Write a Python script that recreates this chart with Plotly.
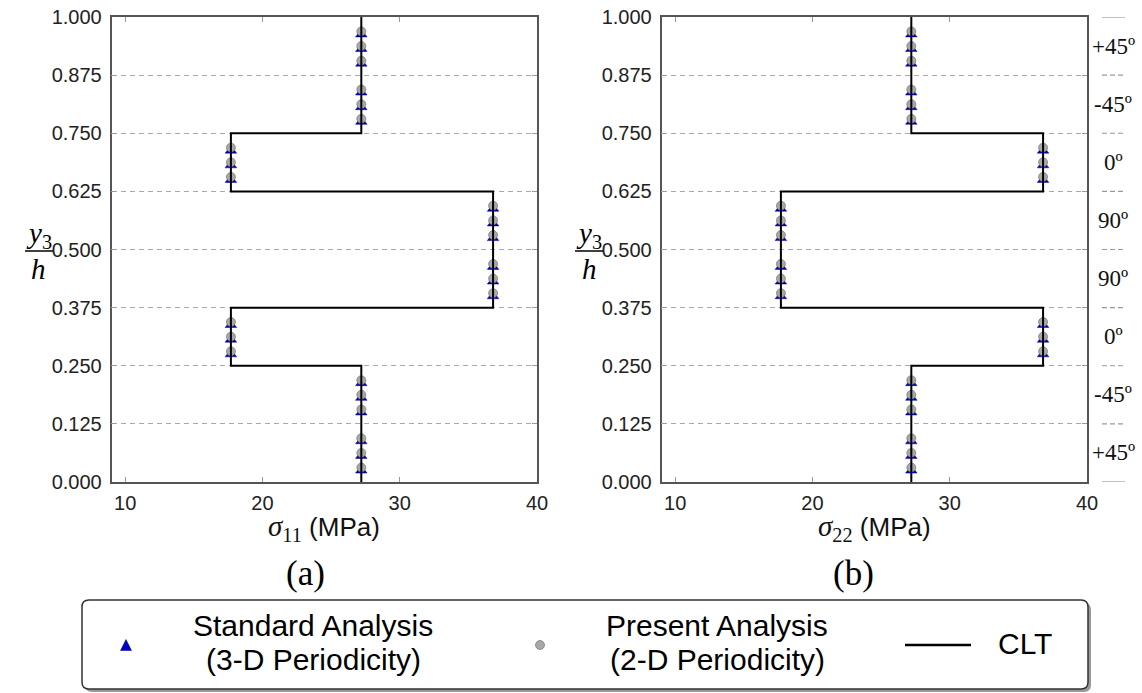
import plotly.graph_objects as go

W, H = 1142, 693

# ---------------- data ----------------
ply_bounds = [0.0, 0.125, 0.25, 0.375, 0.5, 0.625, 0.75, 0.875, 1.0]
ply_labels = ["+45º", "-45º", "0º", "90º", "90º", "0º", "-45º", "+45º"]  # bottom -> top
clt_s11 = [27.2, 27.2, 17.7, 36.8, 36.8, 17.7, 27.2, 27.2]
clt_s22 = [27.2, 27.2, 36.8, 17.7, 17.7, 36.8, 27.2, 27.2]

y_pts = [0.031, 0.0625, 0.094, 0.156, 0.1875, 0.219, 0.281, 0.3125, 0.344,
         0.406, 0.4375, 0.469, 0.531, 0.5625, 0.594, 0.656, 0.6875, 0.719,
         0.781, 0.8125, 0.844, 0.906, 0.9375, 0.969]
std_s11 = [27.2, 27.2, 27.2, 27.2, 27.2, 27.2, 17.7, 17.7, 17.7, 36.8, 36.8, 36.8,
           36.8, 36.8, 36.8, 17.7, 17.7, 17.7, 27.2, 27.2, 27.2, 27.2, 27.2, 27.2]
pres_s11 = [27.2, 27.2, 27.2, 27.2, 27.2, 27.2, 17.7, 17.7, 17.7, 36.8, 36.8, 36.8,
            36.8, 36.8, 36.8, 17.7, 17.7, 17.7, 27.2, 27.2, 27.2, 27.2, 27.2, 27.2]
std_s22 = [27.2, 27.2, 27.2, 27.2, 27.2, 27.2, 36.8, 36.8, 36.8, 17.7, 17.7, 17.7,
           17.7, 17.7, 17.7, 36.8, 36.8, 36.8, 27.2, 27.2, 27.2, 27.2, 27.2, 27.2]
pres_s22 = [27.2, 27.2, 27.2, 27.2, 27.2, 27.2, 36.8, 36.8, 36.8, 17.7, 17.7, 17.7,
            17.7, 17.7, 17.7, 36.8, 36.8, 36.8, 27.2, 27.2, 27.2, 27.2, 27.2, 27.2]

x_ticks = [10, 20, 30, 40]
y_ticks = [0.0, 0.125, 0.25, 0.375, 0.5, 0.625, 0.75, 0.875, 1.0]

legend_names = [["Standard Analysis", "(3-D Periodicity)"],
                ["Present Analysis", "(2-D Periodicity)"],
                ["CLT"]]

# ---------------- style ----------------
SANS = "Liberation Sans, Arial, sans-serif"
SERIF = "Liberation Serif, Times New Roman, serif"
BLUE = "#0000c8"
GRAY = "#a8a8a8"


def px(x):
    return x / W


def py(y):
    return 1 - y / H


def step(vals):
    xs, ys = [], []
    for i, v in enumerate(vals):
        xs += [v, v]
        ys += [ply_bounds[i], ply_bounds[i + 1]]
    return xs, ys


fig = go.Figure()

panels = [("x", "y", std_s11, pres_s11, clt_s11),
          ("x2", "y2", std_s22, pres_s22, clt_s22)]
for xa, ya, std, pres, clt in panels:
    fig.add_trace(go.Scatter(
        x=std, y=y_pts, xaxis=xa, yaxis=ya, mode="markers",
        marker=dict(symbol="triangle-up", size=10, color=BLUE, standoff=3,
                    line=dict(color="#00007a", width=0.5)),
        showlegend=False, cliponaxis=False))
    fig.add_trace(go.Scatter(
        x=pres, y=y_pts, xaxis=xa, yaxis=ya, mode="markers",
        marker=dict(symbol="circle", size=9, color=GRAY,
                    line=dict(color="#666666", width=0.6)),
        showlegend=False, cliponaxis=False))
    cx, cy = step(clt)
    fig.add_trace(go.Scatter(
        x=cx, y=cy, xaxis=xa, yaxis=ya, mode="lines",
        line=dict(color="black", width=2), showlegend=False, cliponaxis=False))

ydom = [py(482), py(17)]
xdoms = [[px(111.5), px(537)], [px(661.5), px(1087)]]

common_x = dict(range=[9, 40], tickvals=x_ticks, ticks="inside", ticklen=5,
                tickcolor="#999", showline=True, linecolor="#555", linewidth=1.5,
                mirror="ticks", showgrid=False, zeroline=False, automargin=False,
                tickfont=dict(family=SANS, size=20, color="#222"),
                ticklabelstandoff=2)
common_y = dict(range=[0, 1], tickvals=y_ticks, tickformat=".3f", ticks="inside",
                ticklen=5, tickcolor="#999", showline=True, linecolor="#555",
                linewidth=1.5, mirror="ticks", showgrid=True, gridcolor="#aaaaaa",
                gridwidth=1, griddash="5px,4px", zeroline=False, automargin=False,
                tickfont=dict(family=SANS, size=20, color="#222"),
                ticklabelstandoff=4)

fig.update_layout(
    width=W, height=H, margin=dict(l=0, r=0, t=0, b=0, pad=0, autoexpand=False),
    paper_bgcolor="white", plot_bgcolor="white", showlegend=False,
    xaxis=dict(domain=xdoms[0], anchor="y", **common_x),
    yaxis=dict(domain=ydom, anchor="x", **common_y),
    xaxis2=dict(domain=xdoms[1], anchor="y2", **common_x),
    yaxis2=dict(domain=ydom, anchor="x2", **common_y),
)

annotations = []
shapes = []


def ann(x, y, text, font, yref="paper"):
    return dict(x=x, y=y, xref="paper", yref=yref, text=text, showarrow=False,
                xanchor="center", yanchor="middle", font=font)


# y-axis fraction labels, x titles, panel letters
for i, (xcen, sub, letter) in enumerate([(39, "11", "(a)"), (589, "22", "(b)")]):
    annotations.append(ann(px(xcen), py(235), "<i>y</i><sub>3</sub>",
                           dict(family=SERIF, size=29, color="black")))
    annotations.append(ann(px(xcen), py(269), "<i>h</i>",
                           dict(family=SERIF, size=29, color="black")))
    shapes.append(dict(type="line", xref="paper", yref="paper",
                       x0=px(xcen - 14), x1=px(xcen + 14), y0=py(251), y1=py(251),
                       line=dict(color="black", width=1.5)))
    xc = 324 + 550 * i
    annotations.append(ann(
        px(xc), py(528),
        ("<span style='font-family:Liberation Serif;font-size:29px'><i>σ</i>"
         "<sub>" + sub + "</sub></span> (MPa)"),
        dict(family=SANS, size=26, color="#111")))
    annotations.append(ann(px(305 + 548 * i), py(573), letter,
                           dict(family=SERIF, size=35, color="black")))

# ply labels and boundary marks on the right
for k, lab in enumerate(ply_labels):
    ymid = (ply_bounds[k] + ply_bounds[k + 1]) / 2
    annotations.append(ann(px(1113), ymid, lab,
                           dict(family=SERIF, size=23, color="#111"), yref="y2"))
for b in ply_bounds:
    solid = b in (0.0, 1.0)
    shapes.append(dict(type="line", xref="paper", yref="y2",
                       x0=px(1102), x1=px(1125), y0=b, y1=b,
                       line=dict(color="#999", width=1.2,
                                 dash="solid" if solid else "5px,3px")))


# legend box (rounded, with shadow)
def rrect(x0, y0, x1, y1, r):
    pts = [
        ("M", x0 + r, y0), ("L", x1 - r, y0), ("Q", x1, y0, x1, y0 + r),
        ("L", x1, y1 - r), ("Q", x1, y1, x1 - r, y1), ("L", x0 + r, y1),
        ("Q", x0, y1, x0, y1 - r), ("L", x0, y0 + r), ("Q", x0, y0, x0 + r, y0),
    ]
    out = ""
    for p in pts:
        cmd = p[0]
        coords = p[1:]
        s = []
        for j in range(0, len(coords), 2):
            s.append(f"{px(coords[j]):.5f},{py(coords[j + 1]):.5f}")
        out += cmd + " ".join(s) + " "
    return out + "Z"


shapes.append(dict(type="path", xref="paper", yref="paper",
                   path=rrect(85, 603, 1091, 692, 7), fillcolor="#9a9a9a",
                   line=dict(width=0), layer="above"))
shapes.append(dict(type="path", xref="paper", yref="paper",
                   path=rrect(82, 600, 1088, 689, 7), fillcolor="white",
                   line=dict(color="#333", width=1.5), layer="above"))
# legend keys
tri = (f"M{px(126):.5f},{py(639.5):.5f} L{px(131.5):.5f},{py(650.5):.5f} "
       f"L{px(120.5):.5f},{py(650.5):.5f} Z")
shapes.append(dict(type="path", xref="paper", yref="paper", path=tri,
                   fillcolor=BLUE, line=dict(color="#00007a", width=0.5), layer="above"))
shapes.append(dict(type="circle", xref="paper", yref="paper",
                   x0=px(535.5), x1=px(544.5), y0=py(640.5), y1=py(649.5),
                   fillcolor=GRAY, line=dict(color="#666", width=0.6), layer="above"))
shapes.append(dict(type="line", xref="paper", yref="paper",
                   x0=px(905), x1=px(971), y0=py(645), y1=py(645),
                   line=dict(color="black", width=2.5), layer="above"))

for xc, lines in zip([313, 717, 1025], legend_names):
    if len(lines) == 2:
        for yy, t in zip([625, 659], lines):
            annotations.append(ann(px(xc), py(yy), t,
                                   dict(family=SANS, size=30, color="black")))
    else:
        annotations.append(ann(px(xc), py(643), lines[0],
                               dict(family=SANS, size=30, color="black")))

fig.update_layout(annotations=annotations, shapes=shapes)
fig.write_html("out.html")
